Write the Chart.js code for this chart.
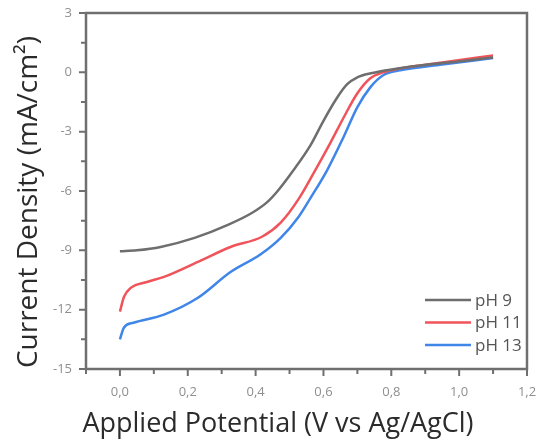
<!DOCTYPE html>
<html>
<head>
<meta charset="utf-8">
<script src="https://cdn.jsdelivr.net/npm/chart.js"></script>
<style>
  html, body { margin: 0; padding: 0; background: #fff; }
  #wrap { width: 537px; height: 439px; }
</style>
</head>
<body>
<div id="wrap"><canvas id="c"></canvas></div>
<script>
// --- data ---
const seriesNames = ['pH 9', 'pH 11', 'pH 13'];
const seriesColors = ['#6e6e6e', '#f0545a', '#3f86e8'];

const ph9X = [0, 0.05, 0.12, 0.22, 0.32, 0.39, 0.435, 0.465, 0.512, 0.562, 0.60, 0.641, 0.67, 0.70, 0.74, 0.885, 1.0, 1.1];
const ph9Y = [-9.05, -9.0, -8.83, -8.37, -7.7, -7.1, -6.55, -6.0, -4.94, -3.68, -2.45, -1.26, -0.6, -0.25, -0.05, 0.35, 0.55, 0.75];

const ph11X = [0, 0.012, 0.032, 0.08, 0.13, 0.23, 0.326, 0.42, 0.474, 0.527, 0.571, 0.62, 0.66, 0.70, 0.738, 0.776, 0.826, 0.95, 1.1];
const ph11Y = [-12.1, -11.35, -10.9, -10.6, -10.34, -9.58, -8.83, -8.3, -7.6, -6.4, -5.1, -3.58, -2.27, -1.06, -0.3, 0.0, 0.2, 0.5, 0.85];

const ph13X = [0, 0.012, 0.04, 0.13, 0.23, 0.326, 0.415, 0.474, 0.527, 0.562, 0.611, 0.659, 0.70, 0.738, 0.776, 0.826, 0.95, 1.1];
const ph13Y = [-13.5, -12.9, -12.66, -12.25, -11.4, -10.1, -9.2, -8.37, -7.3, -6.35, -4.94, -3.28, -1.76, -0.76, -0.15, 0.1, 0.4, 0.72];

const xTickVals = [0, 0.2, 0.4, 0.6, 0.8, 1.0, 1.2];
const xMinorVals = [-0.1, 0.1, 0.3, 0.5, 0.7, 0.9, 1.1];
const yTickVals = [3, 0, -3, -6, -9, -12, -15];
const yMinorVals = [1.5, -1.5, -4.5, -7.5, -10.5, -13.5];

const xTitle = 'Applied Potential (V vs Ag/AgCl)';
const yTitle = 'Current Density (mA/cm\u00B2)';

function pts(xs, ys) { return xs.map((x, i) => ({ x: x, y: ys[i] })); }
const allX = [ph9X, ph11X, ph13X];
const allY = [ph9Y, ph11Y, ph13Y];

const axisColor = '#6f6f6f';
const fontFam = '"Open Sans", "DejaVu Sans", sans-serif';

// frame, ticks, titles and the legend inside the plot
const decor = {
  id: 'decor',
  afterDraw(chart) {
    const ctx = chart.ctx, a = chart.chartArea;
    const xs = chart.scales.x, ys = chart.scales.y;
    ctx.save();
    ctx.strokeStyle = axisColor;
    ctx.lineWidth = 2.5;
    ctx.strokeRect(a.left, a.top, a.right - a.left, a.bottom - a.top);

    ctx.lineWidth = 2;
    ctx.beginPath();
    xTickVals.forEach(v => { const p = xs.getPixelForValue(v); ctx.moveTo(p, a.bottom); ctx.lineTo(p, a.bottom + 7); });
    xMinorVals.forEach(v => { const p = xs.getPixelForValue(v); ctx.moveTo(p, a.bottom); ctx.lineTo(p, a.bottom + 5); });
    yTickVals.forEach(v => { const p = ys.getPixelForValue(v); ctx.moveTo(a.left, p); ctx.lineTo(a.left - 7, p); });
    yMinorVals.forEach(v => { const p = ys.getPixelForValue(v); ctx.moveTo(a.left, p); ctx.lineTo(a.left - 5, p); });
    ctx.stroke();

    // axis titles
    ctx.fillStyle = '#2b2b2b';
    ctx.textAlign = 'center';
    ctx.textBaseline = 'middle';
    ctx.font = '27px ' + fontFam;
    ctx.fillText(xTitle, 278, 424);
    ctx.translate(29, 202);
    ctx.rotate(-Math.PI / 2);
    ctx.font = '28px ' + fontFam;
    ctx.fillText(yTitle, 0, 0);
    ctx.restore();

    // legend
    ctx.save();
    ctx.font = '17px ' + fontFam;
    ctx.textBaseline = 'middle';
    ctx.textAlign = 'left';
    seriesNames.forEach((n, i) => {
      const y = 300 + i * 22.5;
      ctx.strokeStyle = seriesColors[i];
      ctx.lineWidth = 2.5;
      ctx.beginPath(); ctx.moveTo(425, y); ctx.lineTo(471, y); ctx.stroke();
      ctx.fillStyle = '#555';
      ctx.fillText(n, 475, y + 1);
    });
    ctx.restore();
  }
};

new Chart(document.getElementById('c'), {
  type: 'line',
  data: {
    datasets: seriesNames.map((n, i) => ({
      label: n,
      data: pts(allX[i], allY[i]),
      borderColor: seriesColors[i],
      borderWidth: 2.5,
      pointRadius: 0,
      fill: false,
      cubicInterpolationMode: 'monotone'
    }))
  },
  options: {
    responsive: true,
    maintainAspectRatio: false,
    animation: false,
    layout: { padding: { top: 13, right: 10, left: 0, bottom: 0 } },
    plugins: { legend: { display: false }, tooltip: { enabled: false } },
    scales: {
      x: {
        type: 'linear',
        min: -0.1, max: 1.2,
        afterBuildTicks: s => { s.ticks = xTickVals.map(v => ({ value: v })); },
        afterFit: s => { s.height = 70; s.paddingLeft = 0; s.paddingRight = 0; },
        grid: { display: false, drawTicks: false },
        border: { display: false },
        ticks: {
          padding: 15,
          color: '#8f8f8f',
          font: { family: fontFam, size: 13 },
          maxRotation: 0,
          callback: v => v.toFixed(1).replace('.', ',')
        }
      },
      y: {
        type: 'linear',
        min: -15, max: 3,
        afterBuildTicks: s => { s.ticks = yTickVals.map(v => ({ value: v })); },
        afterFit: s => { s.width = 86; s.paddingTop = 0; s.paddingBottom = 0; },
        grid: { display: false, drawTicks: false },
        border: { display: false },
        ticks: {
          padding: 14,
          color: '#8f8f8f',
          font: { family: fontFam, size: 13 },
          callback: v => String(v)
        }
      }
    }
  },
  plugins: [decor]
});
</script>
</body>
</html>
